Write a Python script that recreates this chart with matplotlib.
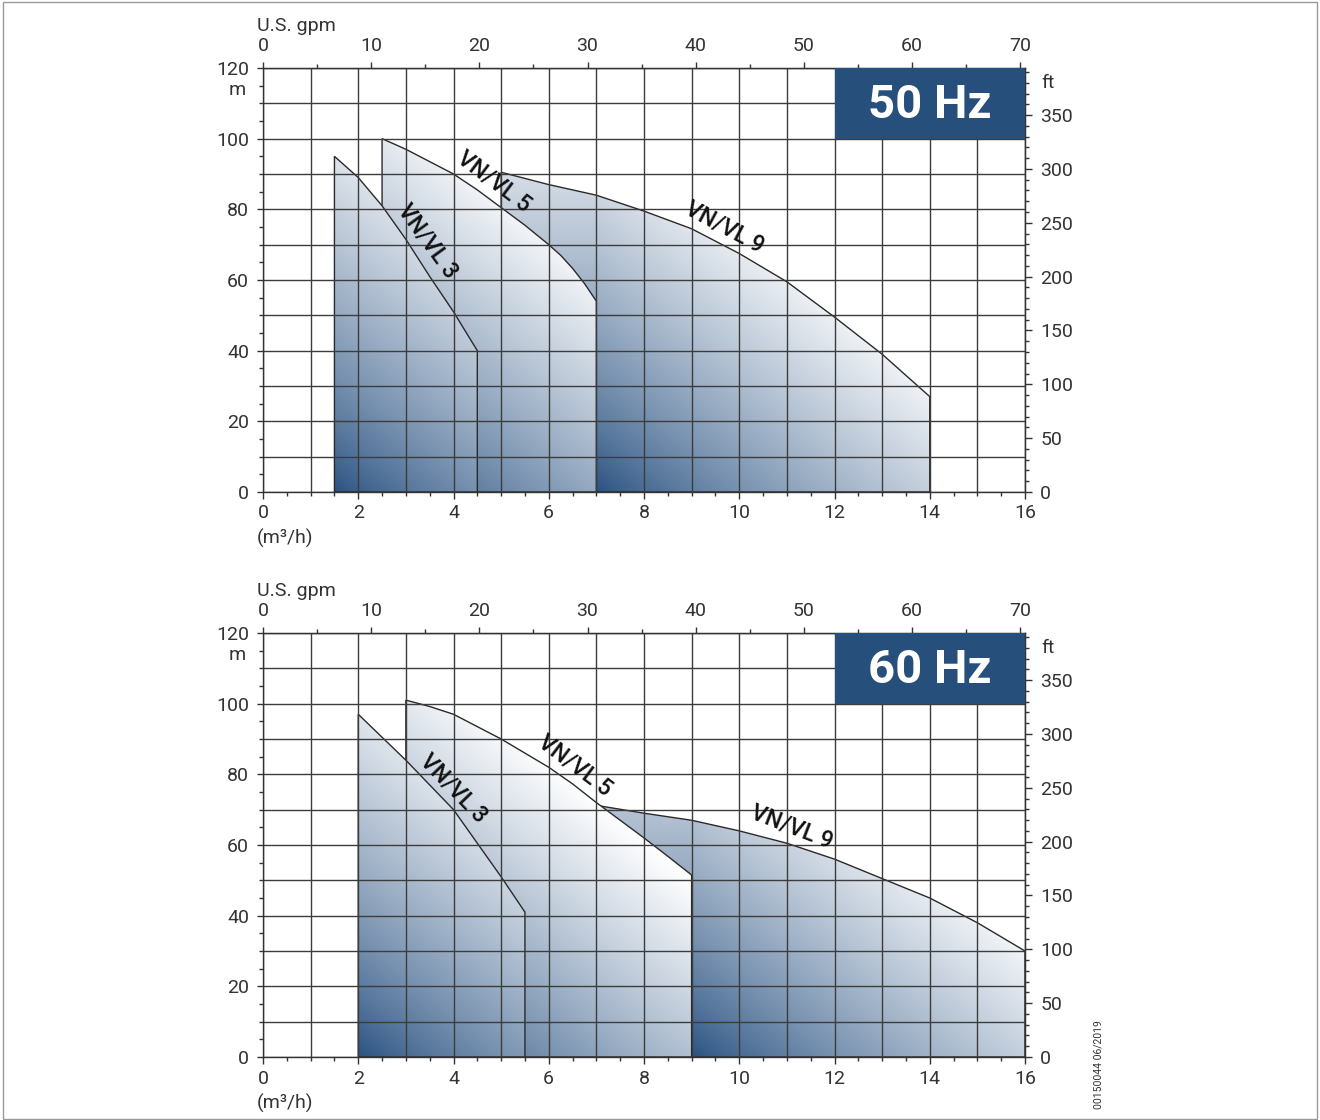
import matplotlib.pyplot as plt
import numpy as np
from matplotlib.patches import Polygon, Rectangle
from matplotlib.ticker import MultipleLocator

plt.rcParams['font.family'] = ['Roboto', 'DejaVu Sans']

# ---- data (Q in m3/h, H in m) ----
# 50 Hz
q3_50 = [1.5, 2, 2.5, 3, 3.5, 4, 4.5]
h3_50 = [95, 89, 81, 71.5, 61, 51, 40]
q5_50 = [2.5, 3, 3.5, 4, 4.5, 5, 5.5, 6, 6.25, 6.5, 6.75, 7]
h5_50 = [100, 97, 93.5, 90, 85.5, 80.5, 75.5, 70, 67, 63.3, 59, 54]
q9_50 = [5, 6, 7, 8, 9, 10, 11, 12, 13, 14]
h9_50 = [90.5, 87, 84, 79.5, 74.5, 67.5, 59.5, 49.5, 39, 27]
# 60 Hz
q3_60 = [2, 2.5, 3, 3.5, 4, 4.5, 5, 5.5]
h3_60 = [97, 90.5, 84, 77, 70, 60.5, 51, 41]
q5_60 = [3, 3.5, 4, 4.5, 5, 5.5, 6, 6.5, 7, 7.5, 8, 8.5, 9]
h5_60 = [101, 99.2, 97, 93.5, 90, 86, 82, 77.3, 72, 67, 62, 56.8, 51.5]
q9_60 = [7.1, 8, 9, 10, 11, 12, 13, 14, 15, 16]
h9_60 = [71, 69, 67, 64, 60.5, 56, 50.5, 45, 38, 30]

names = ['VN/VL 3', 'VN/VL 5', 'VN/VL 9']
GPM = 4.40287   # US gpm per m3/h
FT = 3.28084    # ft per m

DARK = np.array([0x27, 0x50, 0x80]) / 255.0
BOX = '#264f7c'
TXT = '#333333'

fig = plt.figure(figsize=(13.2, 11.2), dpi=100)
W, H = 1320, 1120


def fpos(x, y):
    return x / W, 1 - y / H


def region(ax, q, h, x0, z, sx, sy):
    verts = [(q[0], 0)] + list(zip(q, h)) + [(q[-1], 0)]
    poly = Polygon(verts, closed=True, facecolor='none', edgecolor='#2a2a2a',
                   lw=1.0, zorder=z + 0.05)
    ax.add_patch(poly)
    xs = np.linspace(q[0], q[-1], 300)
    ys = np.linspace(0, max(h), 300)
    X, Y = np.meshgrid(xs, ys)
    a = np.deg2rad(50)
    dx = np.maximum(X - x0, 0) * sx
    t = (dx * np.cos(a) + Y * sy * np.sin(a)) / 320.0
    t = np.clip(t, 0, 1) ** 0.8
    t = t[..., None]
    rgb = DARK[None, None, :] * (1 - t) + t
    im = ax.imshow(rgb, extent=(q[0], q[-1], 0, max(h)), origin='lower',
                   aspect='auto', interpolation='bilinear', zorder=z)
    im.set_clip_path(poly)


def panel(top, curves, starts, labels, hz):
    left = 263
    ax = fig.add_axes([left / W, 1 - (top + 424) / H, 762 / W, 424 / H])
    sx, sy = 762 / 16, 424 / 120
    # back to front: VL9, VL5, VL3
    for i, ((q, h), x0) in enumerate(zip(curves, starts)):
        region(ax, q, h, x0, 1.0 + 0.1 * i, sx, sy)
    ax.vlines(range(0, 17), 0, 120, colors='#3c3c3c', lw=1.0, zorder=1.5)
    ax.hlines(range(0, 121, 10), 0, 16, colors='#3c3c3c', lw=1.0, zorder=1.5)
    ax.set_xlim(0, 16)
    ax.set_ylim(0, 120)

    for (lx, ly, rot), name in zip(labels, names):
        ax.text(lx, ly, name, rotation=rot, rotation_mode='anchor',
                ha='center', va='center', fontsize=16.5, fontweight='medium',
                color='#111', zorder=2.5)

    ax.add_patch(Rectangle((12, 100), 4, 20, facecolor=BOX, edgecolor='none',
                           zorder=3, clip_on=False))
    ax.text(14, 109.6, hz, color='white', fontsize=34, fontweight='bold',
            ha='center', va='center', zorder=4)

    for s in ax.spines.values():
        s.set_color(TXT)
        s.set_linewidth(1.0)
    ax.set_xticks(range(0, 17, 2))
    ax.xaxis.set_minor_locator(MultipleLocator(0.5))
    ax.set_yticks(range(0, 121, 20))
    ax.yaxis.set_minor_locator(MultipleLocator(5))
    ax.tick_params(axis='x', which='major', length=5, width=1, pad=4,
                   labelsize=14, colors=TXT)
    ax.tick_params(axis='x', which='minor', length=3, width=1, colors=TXT)
    ax.tick_params(axis='y', which='major', length=4, width=1, pad=6,
                   labelsize=14, colors=TXT)
    ax.tick_params(axis='y', which='minor', length=3, width=1, colors=TXT)

    sec_x = ax.secondary_xaxis('top', functions=(lambda x: x * GPM, lambda g: g / GPM))
    sec_x.set_xticks(range(0, 71, 10))
    sec_x.xaxis.set_minor_locator(MultipleLocator(5))
    sec_x.tick_params(which='major', length=4, width=1, pad=5, labelsize=14, colors=TXT)
    sec_x.tick_params(which='minor', length=3, width=1, colors=TXT)
    sec_x.spines['top'].set_color(TXT)

    sec_y = ax.secondary_yaxis('right', functions=(lambda m: m * FT, lambda f: f / FT))
    sec_y.set_yticks(range(0, 351, 50))
    sec_y.yaxis.set_minor_locator(MultipleLocator(10))
    sec_y.tick_params(which='major', length=5, width=1, pad=6, labelsize=14, colors=TXT)
    sec_y.tick_params(which='minor', length=3, width=1, colors=TXT)
    sec_y.spines['right'].set_color(TXT)

    fig.text(*fpos(257, top - 42), 'U.S. gpm', fontsize=14, color=TXT,
             ha='left', va='center')
    fig.text(*fpos(237, top + 22), 'm', fontsize=14, color=TXT,
             ha='center', va='center')
    fig.text(*fpos(1048, top + 15), 'ft', fontsize=14, color=TXT,
             ha='center', va='center')
    fig.text(*fpos(257, top + 470), '(m³/h)', fontsize=14, color=TXT,
             ha='left', va='center')
    return ax


panel(68,
      [(q9_50, h9_50), (q5_50, h5_50), (q3_50, h3_50)],
      [7, 2.5, 1.5],
      [(3.45, 71, -54), (4.85, 88, -37), (9.7, 75, -28)],
      '50 Hz')
panel(633,
      [(q9_60, h9_60), (q5_60, h5_60), (q3_60, h3_60)],
      [9, 3, 2],
      [(4.0, 76, -46), (6.55, 82.5, -37), (11.1, 65, -21)],
      '60 Hz')

fig.text(*fpos(1098, 1065), '00150044 06/2019', rotation=90, fontsize=7.5,
         color=TXT, ha='center', va='center')
fig.add_artist(Rectangle((0.002, 0.001), 0.996, 0.997, transform=fig.transFigure,
                         fill=False, edgecolor='#999999', lw=1))

fig.savefig('out.png', dpi=100)
